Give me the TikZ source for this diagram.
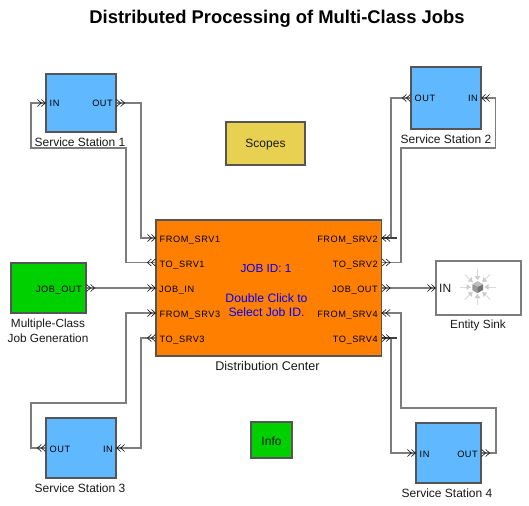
\documentclass[tikz,border=0pt]{standalone}
\usepackage{fontspec}
\setmainfont{Liberation Sans}
\newfontfamily\portfont[LetterSpace=6]{Liberation Sans}
\definecolor{ssblue}{RGB}{96,184,255}
\definecolor{dcorange}{RGB}{255,128,0}
\definecolor{blkgreen}{RGB}{0,208,0}
\definecolor{scyellow}{RGB}{232,208,80}
\definecolor{edgegray}{RGB}{85,85,85}
\definecolor{wiregray}{RGB}{125,125,125}
\tikzset{
  blk/.style={draw=edgegray,line width=1.2pt,inner sep=0pt},
  ssblk/.style={blk,fill=ssblue},
  wire/.style={draw=wiregray,line width=1.4pt,line join=miter},
  chev/.style={draw=black,line width=0.55pt},
  stubline/.style={draw=black!75,line width=1.2pt},
  ptl/.style={font=\portfont\fontsize{9.2}{11}\selectfont,inner sep=0pt,text=black},
  captext/.style={font=\fontsize{11.8}{15}\selectfont,inner sep=0pt,align=center,text=black!90},
  sstext/.style={font=\fontsize{12}{15}\selectfont,inner sep=0pt,text=black!90},
  bluet/.style={font=\fontsize{12.2}{14.4}\selectfont,inner sep=0pt,align=center,text=blue},
  rayline/.style={draw=black!15,line width=1pt},
  pics/rr/.style={code={\draw[chev](0,-3.5)--(4,0)--(0,3.5) (4,-3.5)--(8,0)--(4,3.5);}},
  pics/rl/.style={code={\draw[chev](4,-3.5)--(0,0)--(4,3.5) (8,-3.5)--(4,0)--(8,3.5);}},
  pics/lr/.style={code={\draw[chev](-8,-3.5)--(-4,0)--(-8,3.5) (-4,-3.5)--(0,0)--(-4,3.5);}},
  pics/ll/.style={code={\draw[chev](0,-3.5)--(-4,0)--(0,3.5) (-4,-3.5)--(-8,0)--(-4,3.5);}},
  pics/sinkray/.style={code={\draw[rayline](18,0)--(7,0);\fill[black!20](7,0)--(11,-3)--(11,3)--cycle;}}
}
\begin{document}
\begin{tikzpicture}[x=1pt,y=-1pt]
\useasboundingbox (0,0) rectangle (529,505);
\fill[white] (0,0) rectangle (529,505);
\node[font=\bfseries\fontsize{18.4}{20}\selectfont,inner sep=0pt] (title) at (277,19) {Distributed Processing of Multi-Class Jobs};

% blocks
\node[ssblk,minimum width=70pt,minimum height=58pt] (ss1) at (81,103) {};
\node[ssblk,minimum width=70pt,minimum height=62pt] (ss2) at (446,98) {};
\node[ssblk,minimum width=70pt,minimum height=60pt] (ss3) at (81,448) {};
\node[ssblk,minimum width=65pt,minimum height=60pt] (ss4) at (448.5,453) {};
\node[blk,fill=dcorange,minimum width=225.5pt,minimum height=136pt] (dc) at (268.75,288) {};
\node[blk,fill=scyellow,minimum width=79pt,minimum height=43pt] (scopes) at (265.5,143.5) {};
\node[sstext] (scopestext) at (265.5,145) {Scopes};
\node[blk,fill=blkgreen,minimum width=75pt,minimum height=50pt] (gen) at (48.5,288) {};
\node[blk,fill=blkgreen,minimum width=41pt,minimum height=36pt] (info) at (271.5,440) {};
\node[sstext] (infotext) at (271.5,441.5) {Info};
\node[blk,draw=wiregray,fill=white,minimum width=85pt,minimum height=54pt] (sink) at (478.5,288) {};

% port coordinates
\coordinate (s1i) at (ss1.west);
\coordinate (s1o) at (ss1.east);
\coordinate (s2o) at (ss2.west);
\coordinate (s2i) at (ss2.east);
\coordinate (s3o) at (ss3.west);
\coordinate (s3i) at (ss3.east);
\coordinate (s4i) at (ss4.west);
\coordinate (s4o) at (ss4.east);
\coordinate (gout) at (gen.east);
\coordinate (skin) at (sink.west);
\coordinate (dfs1) at (dc.west |- 0,238);
\coordinate (dts1) at (dc.west |- 0,262.5);
\coordinate (djin) at (dc.west);
\coordinate (dfs3) at (dc.west |- 0,313);
\coordinate (dts3) at (dc.west |- 0,338);
\coordinate (dfs2) at (dc.east |- 0,238);
\coordinate (dts2) at (dc.east |- 0,262.5);
\coordinate (djout) at (dc.east);
\coordinate (dfs4) at (dc.east |- 0,313);
\coordinate (dts4) at (dc.east |- 0,338);

% connectors
\draw[wire] (s1o) -| (141,238) -- (dfs1);
\draw[wire] (dts1) -| (126,148) -| (31,103) -- (s1i);
\draw[wire] (s2o) -| (391,238) -- (dfs2);
\draw[wire] (dts2) -| (401,148) -| (495.5,98) -- (s2i);
\draw[wire] (gout) -- (djin);
\draw[wire] (djout) -- (skin);
\draw[wire] (dfs3) -| (126,403) -| (31,448) -- (s3o);
\draw[wire] (s3i) -| (141,338) -- (dts3);
\draw[wire] (s4o) -| (496,408) -| (401,313) -- (dfs4);
\draw[wire] (dts4) -| (391,453) -- (s4i);
\draw[stubline] (dfs2) -- ++(14.5,0);
\draw[stubline] (dts4) -- ++(14.5,0);

% port chevrons
\pic at (s1i) {lr}; \pic at (s1o) {rr};
\pic at (s2o) {ll}; \pic at (s2i) {rl};
\pic at (s3o) {ll}; \pic at (s3i) {rl};
\pic at (s4i) {lr}; \pic at (s4o) {rr};
\pic at (gout) {rr}; \pic at (skin) {lr};
\pic at (dfs1) {lr}; \pic at (dts1) {ll}; \pic at (djin) {lr}; \pic at (dfs3) {lr}; \pic at (dts3) {ll};
\pic at (dfs2) {rl}; \pic at (dts2) {rr}; \pic at (djout) {rr}; \pic at (dfs4) {rl}; \pic at (dts4) {rr};

% port labels
\node[ptl,anchor=base west] (l1) at (49.5,107) {IN};
\node[ptl,anchor=base east] (l2) at (113,107) {OUT};
\node[ptl,anchor=base west] (l3) at (414.5,102) {OUT};
\node[ptl,anchor=base east] (l4) at (478,102) {IN};
\node[ptl,anchor=base west] (l5) at (49.5,452) {OUT};
\node[ptl,anchor=base east] (l6) at (113,452) {IN};
\node[ptl,anchor=base west] (l7) at (419.5,457) {IN};
\node[ptl,anchor=base east] (l8) at (478,457) {OUT};
\node[ptl,anchor=base east] (l9) at (82,292) {JOB\_OUT};
\node[ptl,anchor=base west] (a1) at (159.5,242) {FROM\_SRV1};
\node[ptl,anchor=base west] (a2) at (159.5,267) {TO\_SRV1};
\node[ptl,anchor=base west] (a3) at (159,292) {JOB\_IN};
\node[ptl,anchor=base west] (a4) at (159.5,317) {FROM\_SRV3};
\node[ptl,anchor=base west] (a5) at (159.5,342) {TO\_SRV3};
\node[ptl,anchor=base east] (b1) at (378,242) {FROM\_SRV2};
\node[ptl,anchor=base east] (b2) at (378,267) {TO\_SRV2};
\node[ptl,anchor=base east] (b3) at (378,292) {JOB\_OUT};
\node[ptl,anchor=base east] (b4) at (378,317) {FROM\_SRV4};
\node[ptl,anchor=base east] (b5) at (378,342) {TO\_SRV4};

% block text
\node[bluet,font=\fontsize{11.7}{14.4}\selectfont] (jobid) at (266,268) {JOB ID: 1};
\node[bluet] (dbl) at (266.5,305) {Double Click to\\Select Job ID.};

% captions
\node[sstext] (c1) at (80,142) {Service Station 1};
\node[sstext] (c2) at (446,139) {Service Station 2};
\node[sstext] (c3) at (80,488) {Service Station 3};
\node[sstext] (c4) at (447,493) {Service Station 4};
\node[captext] (c5) at (48,330.5) {Multiple-Class\\Job Generation};
\node[captext,font=\fontsize{12.6}{15}\selectfont] (c6) at (267.5,366) {Distribution Center};
\node[captext] (c7) at (478,325) {Entity Sink};
\node[captext,anchor=west,font=\fontsize{12}{14}\selectfont] (c8) at (439,288.5) {IN};

% sink icon
\foreach \a in {0,45,...,315} \pic[rotate=\a] at (477.5,287) {sinkray};
\fill[black!55] (477.5,281.5) -- (483,284.5) -- (483,290) -- (477.5,293) -- (472.5,290) -- (472.5,284.5) -- cycle;
\fill[black!25] (477.5,281.5) -- (483,284.5) -- (477.5,287) -- (472.5,284.5) -- cycle;
\fill[black!40] (472.5,284.5) -- (477.5,287) -- (477.5,293) -- (472.5,290) -- cycle;
\end{tikzpicture}
\end{document}
